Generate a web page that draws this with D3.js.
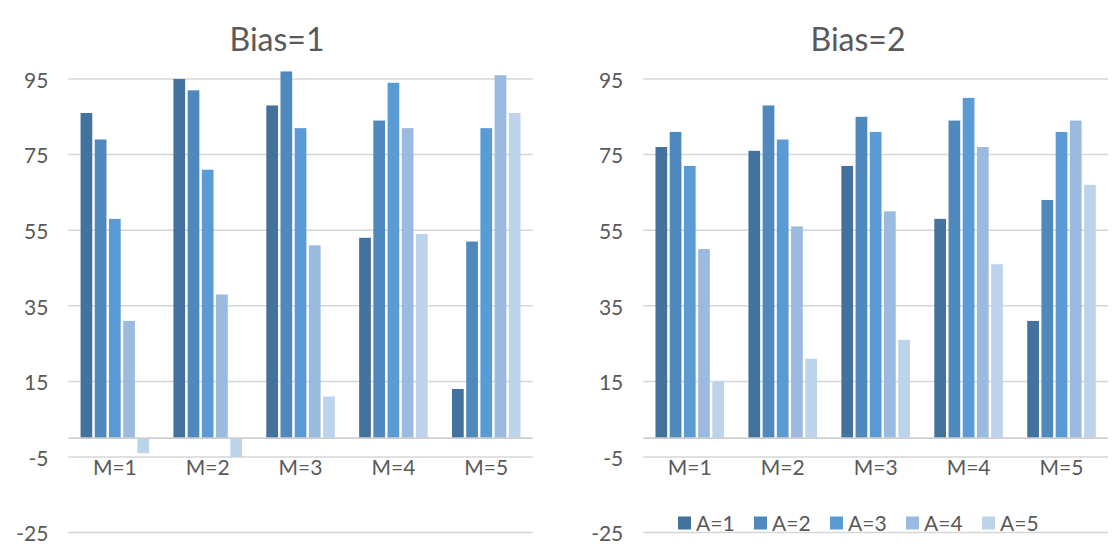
<!DOCTYPE html>
<html>
<head>
<meta charset="utf-8">
<script src="https://cdn.jsdelivr.net/npm/d3@7"></script>
<style>
  html, body { margin: 0; padding: 0; background: #fff; }
  svg { display: block; font-family: Lato, "Open Sans", sans-serif; }
</style>
</head>
<body>
<svg id="chart" width="1113" height="550"></svg>
<script>
// Category and series labels
const categories = ["M=1", "M=2", "M=3", "M=4", "M=5"];
const seriesNames = ["A=1", "A=2", "A=3", "A=4", "A=5"];
const yTicks = [-25, -5, 15, 35, 55, 75, 95];

// Values per category (rows) for each series A=1..A=5 (columns)
const bias1Values = [
  [86, 79, 58, 31, -4],
  [95, 92, 71, 38, -5],
  [88, 97, 82, 51, 11],
  [53, 84, 94, 82, 54],
  [13, 52, 82, 96, 86]
];
const bias2Values = [
  [77, 81, 72, 50, 15],
  [76, 88, 79, 56, 21],
  [72, 85, 81, 60, 26],
  [58, 84, 90, 77, 46],
  [31, 63, 81, 84, 67]
];

const colors = ["#43729e", "#4e88bd", "#5b9bd5", "#9bbae0", "#bdd3ec"];
const textColor = "#595959";
const gridColor = "#d6d6d6";

const svg = d3.select("#chart");
const color = d3.scaleOrdinal().domain(seriesNames).range(colors);

function drawPanel(opts) {
  const { title, values, x0, x1, titleX, legend } = opts;
  const g = svg.append("g");

  const y = d3.scaleLinear().domain([-25, 95]).range([532.6, 79]);
  const xOuter = d3.scaleBand().domain(categories).range([x0, x1]).padding(0);
  const bw = xOuter.bandwidth();
  const margin = bw * 0.131;
  const xInner = d3.scaleBand().domain(seriesNames)
    .range([margin, bw - margin]).paddingInner(0.176).paddingOuter(0);

  // Title
  g.append("text")
    .attr("x", titleX).attr("y", 51)
    .attr("text-anchor", "middle")
    .attr("fill", textColor)
    .attr("font-size", 32)
    .text(title);

  // Horizontal gridlines
  g.append("g").selectAll("line")
    .data(yTicks)
    .join("line")
    .attr("x1", x0).attr("x2", x1)
    .attr("y1", d => y(d)).attr("y2", d => y(d))
    .attr("stroke", gridColor)
    .attr("stroke-width", 1.5);

  // Y tick labels
  g.append("g").selectAll("text")
    .data(yTicks)
    .join("text")
    .attr("x", x0 - 20)
    .attr("y", d => y(d) + 1.5)
    .attr("dy", "0.35em")
    .attr("text-anchor", "end")
    .attr("fill", textColor)
    .attr("font-size", 21)
    .text(d => d);

  // Bars
  const groups = g.append("g").selectAll("g")
    .data(categories)
    .join("g")
    .attr("transform", d => `translate(${xOuter(d)},0)`);

  groups.selectAll("rect")
    .data((d, i) => values[i].map((v, j) => ({ key: seriesNames[j], value: v })))
    .join("rect")
    .attr("x", d => xInner(d.key))
    .attr("width", xInner.bandwidth())
    .attr("y", d => y(Math.max(0, d.value)))
    .attr("height", d => Math.abs(y(d.value) - y(0)))
    .attr("fill", d => color(d.key));

  // Category axis line at zero
  g.append("line")
    .attr("x1", x0).attr("x2", x1)
    .attr("y1", y(0)).attr("y2", y(0))
    .attr("stroke", "#cfcfcf")
    .attr("stroke-width", 1.8);

  // Category labels
  g.append("g").selectAll("text")
    .data(categories)
    .join("text")
    .attr("x", d => xOuter(d) + bw / 2)
    .attr("y", 468)
    .attr("dy", "0.35em")
    .attr("text-anchor", "middle")
    .attr("fill", textColor)
    .attr("font-size", 21)
    .text(d => d);

  // Legend
  if (legend) {
    const step = 76;
    const startX = legend.x;
    const items = g.append("g").selectAll("g")
      .data(seriesNames)
      .join("g")
      .attr("transform", (d, i) => `translate(${startX + i * step},${legend.y})`);
    items.append("rect")
      .attr("x", 0).attr("y", -6.5)
      .attr("width", 13).attr("height", 13)
      .attr("fill", d => color(d));
    items.append("text")
      .attr("x", 18).attr("y", 0.5)
      .attr("dy", "0.35em")
      .attr("fill", textColor)
      .attr("font-size", 21)
      .text(d => d);
  }
}

drawPanel({ title: "Bias=1", values: bias1Values, x0: 68.4, x1: 532.7, titleX: 277 });
drawPanel({ title: "Bias=2", values: bias2Values, x0: 643.3, x1: 1108, titleX: 858,
  legend: { x: 678, y: 523 } });
</script>
</body>
</html>
